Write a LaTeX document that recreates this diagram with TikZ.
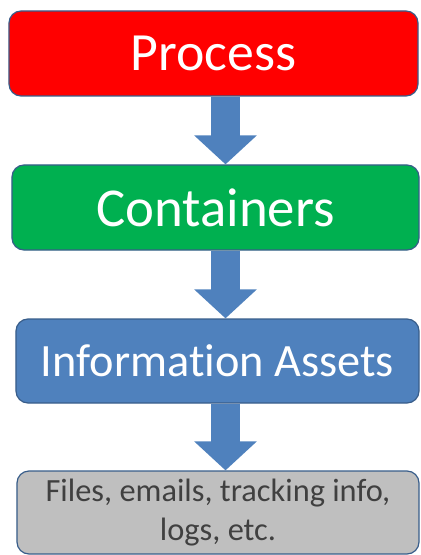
\documentclass[tikz,border=0pt]{standalone}
\usepackage{fontspec}
\setmainfont{Carlito}[Ligatures={NoCommon,NoContextual,NoRare}]
\usetikzlibrary{arrows.meta}
\definecolor{procred}{RGB}{255,0,0}
\definecolor{contgreen}{RGB}{0,176,80}
\definecolor{infoblue}{RGB}{79,129,189}
\definecolor{filegray}{RGB}{191,191,191}
\definecolor{edgeblue}{RGB}{56,93,138}
\definecolor{textgray}{RGB}{64,64,64}

\begin{document}
\begin{tikzpicture}[x=1bp,y=1bp,
    box/.style={draw=edgeblue,line width=1.2bp,rounded corners=12bp,inner sep=0pt,align=center},
    flow/.style={infoblue,line width=29bp,-{Triangle[width=61bp,length=29bp]}}]
    \useasboundingbox (0,0) rectangle (420,-555);
    % the four levels
    \node[box,fill=procred,text=white,minimum width=409bp,minimum height=85bp,
        font=\fontsize{54}{60}\selectfont] (proc) at (213.5,-53.5) {Process};
    \node[box,fill=contgreen,text=white,minimum width=407bp,minimum height=85bp,
        font=\fontsize{55}{60}\selectfont] (cont) at (215.5,-207.5) {Containers};
    \node[box,fill=infoblue,text=white,minimum width=403bp,minimum height=84bp,
        font=\fontsize{46.5}{50}\selectfont] (info) at (217.5,-361) {Informat\kern0pt ion Assets};
    \node[box,fill=filegray,text=textgray,minimum width=402bp,minimum height=83bp,
        font=\fontsize{32.5}{40}\selectfont] (files) at (218,-512.5) {Files, emails, tracking info,\\logs, etc.};
    % block arrows between them
    \coordinate (axis) at (225.5,0);
    \foreach \a/\b in {proc/cont,cont/info,info/files}
        \draw[flow] (\a.south -| axis) -- (\b.north -| axis);
\end{tikzpicture}
\end{document}
